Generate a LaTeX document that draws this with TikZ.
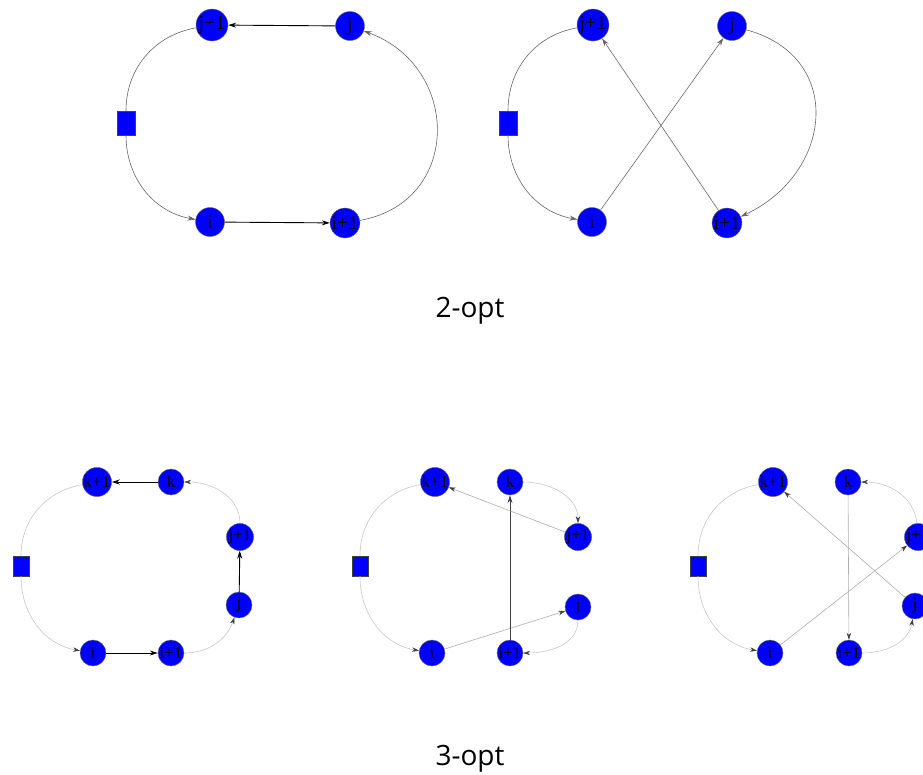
\documentclass[tikz,border=0pt]{standalone}
\usepackage{fontspec}
\setmainfont{Liberation Serif}
\newfontfamily\captionfont{Open Sans}
\usetikzlibrary{arrows.meta}

\begin{document}
\begin{tikzpicture}[x=1pt,y=1pt,
  >={Stealth[length=8pt,width=5pt]},
  city/.style={circle,draw=black!60,fill=blue,inner sep=0pt,minimum size=29pt,font=\fontsize{20}{20}\selectfont},
  smallcity/.style={city,minimum size=26pt,font=\fontsize{17}{17}\selectfont},
  depot/.style={rectangle,draw=black!75,fill=blue,inner sep=0pt,minimum width=18pt,minimum height=24pt},
  smalldepot/.style={depot,minimum width=16pt,minimum height=20pt},
  tour/.style={draw=black!60,line width=0.6pt},
  swap/.style={draw=black,line width=0.9pt},
  faint/.style={draw=black!22,line width=0.6pt,-{Stealth[length=7pt,width=4.5pt,color=black!75]}},
  cross/.style={faint,draw=black!32},
  caption/.style={font=\captionfont\fontsize{28}{28}\selectfont}]
\useasboundingbox (0,0) rectangle (923,-774);

% 2-opt, before
\node[depot] (d1) at (126,-123) {};
\node[city] (i1) at (210,-222) {i};
\node[city] (ip1) at (345,-223) {i+1};
\node[city] (j1) at (350,-26) {j};
\node[city] (jp1) at (212,-25) {j+1};
\draw[tour,->] (d1) to[out=-90,in=170] (i1);
\draw[swap,->] (i1) -- (ip1);
\draw[tour,->] (ip1) to[out=10,in=-20,looseness=1.4] (j1);
\draw[swap,->] (j1) -- (jp1);
\draw[tour] (jp1) to[out=190,in=90] (d1);

% 2-opt, after
\node[depot] (d2) at (508,-123) {};
\node[city] (i2) at (592,-222) {i};
\node[city] (ip2) at (727,-223) {i+1};
\node[city] (j2) at (732,-26) {j};
\node[city] (jp2) at (593,-25) {j+1};
\draw[tour,->] (d2) to[out=-90,in=170] (i2);
\draw[tour,->] (i2) -- (j2);
\draw[tour,->] (j2) to[out=-15,in=25,looseness=1.4] (ip2);
\draw[tour,->] (ip2) -- (jp2);
\draw[tour] (jp2) to[out=190,in=90] (d2);

\node[caption] (twoopt) at (470,-311) {2-opt};

% 3-opt, before
\node[smalldepot] (d3) at (21,-566) {};
\node[smallcity] (i3) at (93,-653) {i};
\node[smallcity] (ip3) at (171,-653) {i+1};
\node[smallcity] (j3) at (239,-605) {j};
\node[smallcity] (jp3) at (240,-537) {j+1};
\node[smallcity] (k3) at (171,-482) {k};
\node[smallcity] (kp3) at (97,-482) {k+1};
\draw[faint] (d3) to[out=-90,in=170] (i3);
\draw[swap,->] (i3) -- (ip3);
\draw[faint] (ip3) to[out=0,in=-110] (j3);
\draw[swap,->] (j3) -- (jp3);
\draw[faint] (jp3) to[out=90,in=0] (k3);
\draw[swap,->] (k3) -- (kp3);
\draw[faint,-] (kp3) to[out=190,in=90] (d3);

% 3-opt, first reconnection
\node[smalldepot] (d4) at (360,-566) {};
\node[smallcity] (i4) at (432,-653) {i};
\node[smallcity] (ip4) at (510,-653) {i+1};
\node[smallcity] (j4) at (578,-607) {j};
\node[smallcity] (jp4) at (578,-537) {j+1};
\node[smallcity] (k4) at (510,-482) {k};
\node[smallcity] (kp4) at (435,-482) {k+1};
\draw[faint] (d4) to[out=-90,in=170] (i4);
\draw[cross] (i4) -- (j4);
\draw[faint] (j4) to[out=-90,in=0] (ip4);
\draw[swap,draw=black!75,->] (ip4) -- (k4);
\draw[faint] (k4) to[out=0,in=90] (jp4);
\draw[cross] (jp4) -- (kp4);
\draw[faint,-] (kp4) to[out=190,in=90] (d4);

% 3-opt, second reconnection
\node[smalldepot] (d5) at (698,-566) {};
\node[smallcity] (i5) at (770,-653) {i};
\node[smallcity] (ip5) at (849,-653) {i+1};
\node[smallcity] (j5) at (915,-606) {j};
\node[smallcity] (jp5) at (918,-537) {j+1};
\node[smallcity] (k5) at (848,-482) {k};
\node[smallcity] (kp5) at (773,-482) {k+1};
\draw[faint] (d5) to[out=-90,in=170] (i5);
\draw[cross] (i5) -- (jp5);
\draw[faint] (jp5) to[out=95,in=0] (k5);
\draw[cross] (k5) -- (ip5);
\draw[faint] (ip5) to[out=0,in=-100] (j5);
\draw[cross] (j5) -- (kp5);
\draw[faint,-] (kp5) to[out=190,in=90] (d5);

\node[caption] (threeopt) at (470,-759) {3-opt};
\end{tikzpicture}
\end{document}
